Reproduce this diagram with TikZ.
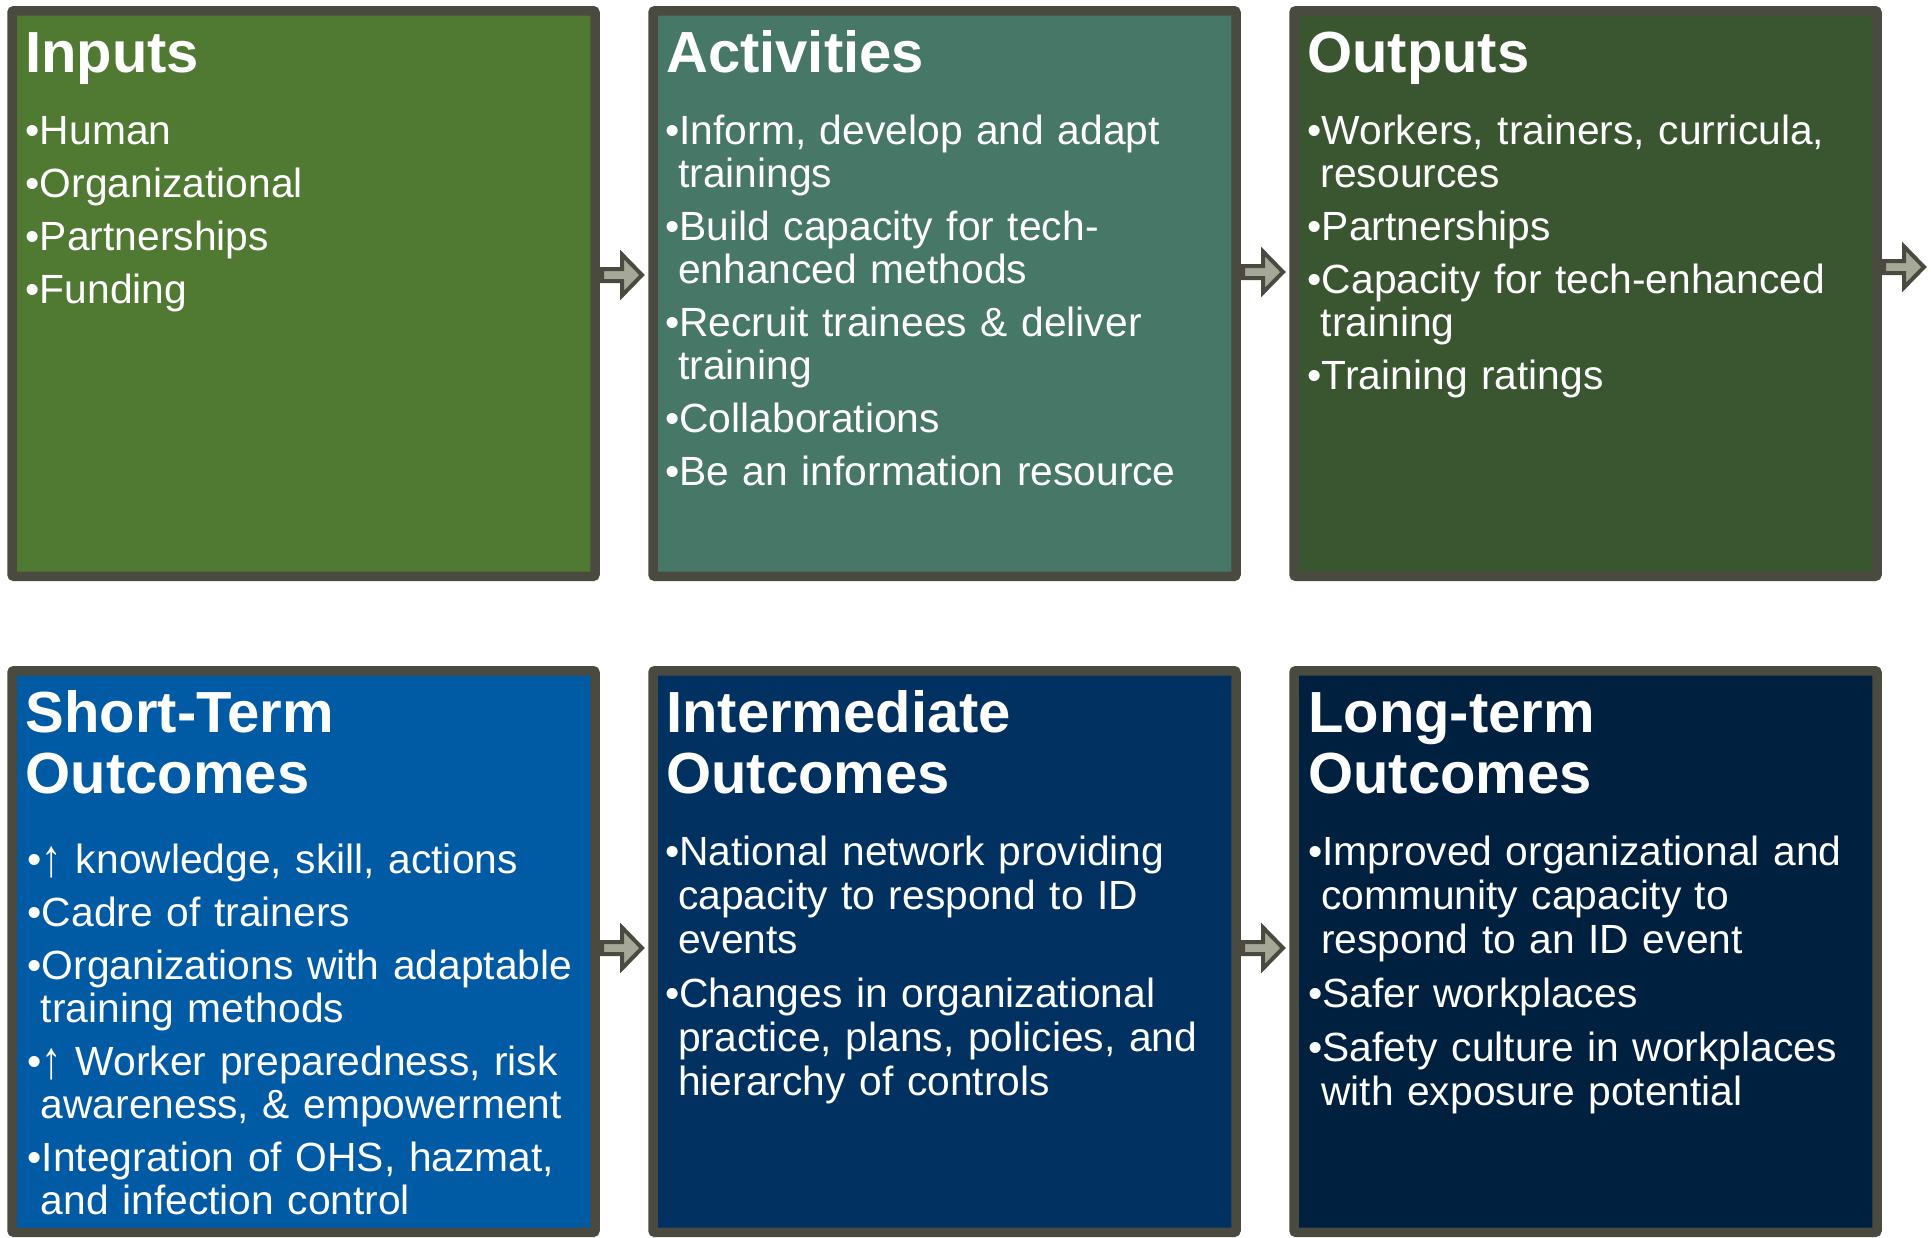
\documentclass[tikz,border=0pt]{standalone}
\usepackage{fontspec}
\setmainfont{Liberation Sans}
\usetikzlibrary{calc}

\definecolor{inputgreen}{RGB}{80,122,50}
\definecolor{activityteal}{RGB}{71,119,103}
\definecolor{outputgreen}{RGB}{58,86,49}
\definecolor{shortblue}{RGB}{0,91,164}
\definecolor{midnavy}{RGB}{0,49,96}
\definecolor{longnavy}{RGB}{0,32,63}
\definecolor{frame}{RGB}{75,74,65}
\definecolor{arrowgray}{RGB}{165,168,151}

% indent of a wrapped line, space between two items, the up arrow
\newcommand{\cont}{\hspace*{0.13cm}}
\newcommand{\gap}{0.1cm}
\newcommand{\uparr}{\raisebox{-0.08em}{\scalebox{1}[1.3]{↑}}}

\begin{document}
\begin{tikzpicture}[
    box/.style={draw=frame, line width=0.095cm, rounded corners=0.02cm,
        minimum width=5.83cm, inner sep=0pt, outer sep=0pt},
    toprow/.style={box, minimum height=5.655cm},
    botrow/.style={box, minimum height=5.615cm},
    heading/.style={anchor=base west, align=left, text width=5.7cm, text=white,
        inner sep=0pt, font=\bfseries\fontsize{16.5}{17.4}\selectfont},
    items/.style={anchor=base west, align=left, text width=5.7cm, text=white,
        inner sep=0pt, font=\fontsize{11.6}{12.24}\selectfont},
    loose/.style={items, font=\fontsize{11.6}{12.5}\selectfont},
    flow/.style={draw=frame, fill=arrowgray, line width=0.04cm, line join=miter}
]

\useasboundingbox (0,0) rectangle (19.31,-12.37);

% top row
\node[toprow, fill=inputgreen]   (inputs)     at (3.035,-2.935)  {};
\node[toprow, fill=activityteal] (activities) at (9.445,-2.935)  {};
\node[toprow, fill=outputgreen]  (outputs)    at (15.855,-2.935) {};

% bottom row
\node[botrow, fill=shortblue] (short) at (3.035,-9.515)  {};
\node[botrow, fill=midnavy]   (mid)   at (9.445,-9.515)  {};
\node[botrow, fill=longnavy]  (long)  at (15.855,-9.515) {};

% headings
\node[heading] (inputs title)     at ($(inputs.north west)+(0.125,-0.6125)$)     {Inputs};
\node[heading] (activities title) at ($(activities.north west)+(0.125,-0.6125)$) {Activities};
\node[heading] (outputs title)    at ($(outputs.north west)+(0.125,-0.6125)$)    {Outputs};
\node[heading] (short title) at ($(short.north west)+(0.13,-0.6125)$) {Short-Term\\Outcomes};
\node[heading] (mid title)   at ($(mid.north west)+(0.125,-0.6125)$)  {Intermediate\\Outcomes};
\node[heading] (long title)  at ($(long.north west)+(0.135,-0.6125)$) {Long-term\\Outcomes};

% lists
\node[items] (inputs list) at ($(inputs.north west)+(0.13,-1.3325)$) {%
    \textbullet Human\\[\gap]
    \textbullet Organizational\\[\gap]
    \textbullet Partnerships\\[\gap]
    \textbullet Funding};

\node[items] (activities list) at ($(activities.north west)+(0.115,-1.3325)$) {%
    \textbullet Inform, develop and adapt\\
    \cont trainings\\[\gap]
    \textbullet Build capacity for tech-\\
    \cont enhanced methods\\[\gap]
    \textbullet Recruit trainees \& deliver\\
    \cont training\\[\gap]
    \textbullet Collaborations\\[\gap]
    \textbullet Be an information resource};

\node[items] (outputs list) at ($(outputs.north west)+(0.13,-1.3325)$) {%
    \textbullet Workers, trainers, curricula,\\
    \cont resources\\[\gap]
    \textbullet Partnerships\\[\gap]
    \textbullet Capacity for tech-enhanced\\
    \cont training\\[\gap]
    \textbullet Training ratings};

\node[items] (short list) at ($(short.north west)+(0.15,-2.0225)$) {%
    \textbullet\uparr{} knowledge, skill, actions\\[\gap]
    \textbullet Cadre of trainers\\[\gap]
    \textbullet Organizations with adaptable\\
    \cont training methods\\[\gap]
    \textbullet\uparr{} Worker preparedness, risk\\
    \cont awareness, \& empowerment\\[\gap]
    \textbullet Integration of OHS, hazmat,\\
    \cont and infection control};

\node[loose] (mid list) at ($(mid.north west)+(0.115,-1.9475)$) {%
    \textbullet National network providing\\
    \cont capacity to respond to ID\\
    \cont events\\[\gap]
    \textbullet Changes in organizational\\
    \cont practice, plans, policies, and\\
    \cont hierarchy of controls};

\node[loose] (long list) at ($(long.north west)+(0.135,-1.9475)$) {%
    \textbullet Improved organizational and\\
    \cont community capacity to\\
    \cont respond to an ID event\\[\gap]
    \textbullet Safer workplaces\\[\gap]
    \textbullet Safety culture in workplaces\\
    \cont with exposure potential};

% block arrows between the boxes
\coordinate (arr1) at (inputs.east |- 0,-2.75);
\coordinate (arr2) at (activities.east |- 0,-2.72);
\coordinate (arr3) at (outputs.east |- 0,-2.67);
\coordinate (arr4) at (short.east |- 0,-9.48);
\coordinate (arr5) at (mid.east |- 0,-9.48);
\foreach \a in {arr1,arr2,arr3,arr4,arr5}
    \draw[flow] (\a) ++(0.07,0.06) -- ++(0.2,0) -- ++(0,0.145)
        -- ++(0.2,-0.205) -- ++(-0.2,-0.205) -- ++(0,0.145) -- ++(-0.2,0) -- cycle;

\end{tikzpicture}
\end{document}
